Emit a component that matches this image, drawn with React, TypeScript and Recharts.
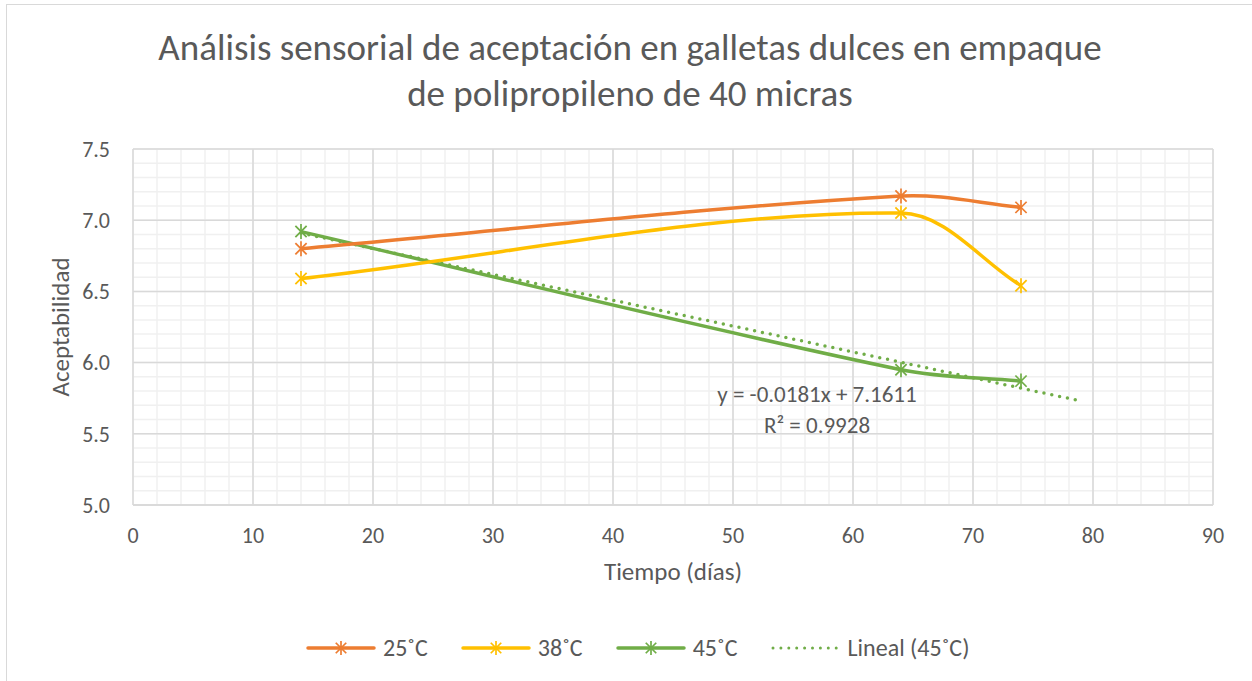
import {
	CartesianGrid,
	Line,
	LineChart,
	ReferenceDot,
	XAxis,
	YAxis,
} from 'recharts'

const days = [14, 64, 74]
const temp25 = [6.8, 7.17, 7.09]
const temp38 = [6.59, 7.05, 6.54]
const temp45 = [6.92, 5.95, 5.87]

// trend line endpoints (starts at first point, forecast to 79)
const trendDays = [14, 79]
const trendValues = [6.91, 5.73]

const xTicks = [0, 10, 20, 30, 40, 50, 60, 70, 80, 90]
const yTicks = [5.0, 5.5, 6.0, 6.5, 7.0, 7.5]
const equation = 'y = -0.0181x + 7.1611'
const rSquared = 'R² = 0.9928'

const ORANGE = '#ED7D31'
const YELLOW = '#FFC000'
const GREEN = '#70AD47'
const TEXT = '#595959'
const FONT = "Carlito, Calibri, 'Liberation Sans', Arial, sans-serif"

const X_MIN = 0
const X_MAX = 90
const Y_MIN = 5
const Y_MAX = 7.5

const toRows = (values: number[]) => days.map((d, i) => ({ x: d, y: values[i] }))
const trendRows = trendDays.map((d, i) => ({ x: d, y: trendValues[i] }))

// minor grid: every 2 days, every 0.1 of acceptability
const minorV = ({ offset }: any) =>
	Array.from({ length: 46 }, (_, i) => offset.left + ((i * 2 - X_MIN) / (X_MAX - X_MIN)) * offset.width)
const minorH = ({ offset }: any) =>
	Array.from({ length: 26 }, (_, i) => offset.top + (i / 25) * offset.height)

// Excel style smoothed line (bezier, tangents scaled by neighbouring segment lengths)
const excelSmooth = (ctx: any) => {
	let pts: [number, number][] = []
	const dist = (a: number[], b: number[]) => Math.hypot(a[0] - b[0], a[1] - b[1])
	return {
		areaStart() {},
		areaEnd() {},
		lineStart() {
			pts = []
		},
		point(x: number, y: number) {
			pts.push([x, y])
		},
		lineEnd() {
			if (!pts.length) return
			ctx.moveTo(pts[0][0], pts[0][1])
			for (let i = 0; i < pts.length - 1; i++) {
				const p0 = pts[i - 1] || pts[i]
				const p1 = pts[i]
				const p2 = pts[i + 1]
				const p3 = pts[i + 2] || p2
				const d01 = dist(p0, p1)
				const d12 = dist(p1, p2)
				const d23 = dist(p2, p3)
				const f1 = d12 / (d01 + d12) / 3
				const f2 = d12 / (d12 + d23) / 3
				ctx.bezierCurveTo(
					p1[0] + (p2[0] - p0[0]) * f1,
					p1[1] + (p2[1] - p0[1]) * f1,
					p2[0] - (p3[0] - p1[0]) * f2,
					p2[1] - (p3[1] - p1[1]) * f2,
					p2[0],
					p2[1],
				)
			}
		},
	}
}

const Star = ({ cx, cy, color, r = 7.5 }: { cx: number; cy: number; color: string; r?: number }) => {
	const d = r * 0.75
	return (
		<g stroke={color} strokeWidth={1.7}>
			<line x1={cx} y1={cy - r} x2={cx} y2={cy + r} />
			<line x1={cx - d} y1={cy - d} x2={cx + d} y2={cy + d} />
			<line x1={cx - d} y1={cy + d} x2={cx + d} y2={cy - d} />
		</g>
	)
}

const starDot = (color: string) => (props: any) =>
	<Star key={`${color}-${props.index}`} cx={props.cx} cy={props.cy} color={color} />

const LegendItem = ({ color, label, dotted }: { color: string; label: string; dotted?: boolean }) => (
	<div style={{ display: 'flex', alignItems: 'center', marginRight: 33 }}>
		<svg width={70} height={20}>
			{dotted ? (
				<line x1={3} y1={10} x2={67} y2={10} stroke={color} strokeWidth={3} strokeDasharray='0 7.9' strokeLinecap='round' />
			) : (
				<>
					<line x1={2} y1={10} x2={68} y2={10} stroke={color} strokeWidth={3.5} strokeLinecap='round' />
					<Star cx={35} cy={10} color={color} r={7} />
				</>
			)}
		</svg>
		<span style={{ marginLeft: 7, fontSize: 24, color: TEXT, fontFamily: FONT, lineHeight: '24px' }}>{label}</span>
	</div>
)

const EquationLabel = (props: any) => {
	const vb = props.viewBox || {}
	const cx = vb.cx ?? vb.x + (vb.width || 0) / 2
	const cy = vb.cy ?? vb.y + (vb.height || 0) / 2
	return (
		<text x={cx} y={cy} textAnchor='middle' fill={TEXT} fontSize={23} fontFamily={FONT}>
			<tspan x={cx} dy={0}>{equation}</tspan>
			<tspan x={cx} dy={31}>{rSquared}</tspan>
		</text>
	)
}

const App = () => {
	return (
		<div style={{ position: 'absolute', left: 0, top: 0, width: 1252, height: 681, overflow: 'hidden', background: '#fff' }}>
			<div style={{ position: 'absolute', left: 6, top: 4, width: 1300, height: 700, border: '1.5px solid #d9d9d9', boxSizing: 'border-box' }} />
			<div style={{ position: 'absolute', left: 0, top: 0 }}>
				<LineChart width={1252} height={681} margin={{ top: 149, right: 39, bottom: 136, left: 83 }}>
					<CartesianGrid
						stroke='#f0f0f0'
						strokeWidth={1.5}
						verticalCoordinatesGenerator={minorV}
						horizontalCoordinatesGenerator={minorH}
					/>
					<CartesianGrid stroke='#d9d9d9' strokeWidth={1.5} />
					<XAxis
						type='number'
						dataKey='x'
						domain={[X_MIN, X_MAX]}
						ticks={xTicks}
						interval={0}
						height={40}
						tickSize={0}
						tickMargin={22}
						axisLine={{ stroke: '#d9d9d9', strokeWidth: 1.5 }}
						tick={{ fill: TEXT, fontSize: 22, fontFamily: FONT }}
						label={{
							content: (p: any) => (
								<text x={p.viewBox.x + p.viewBox.width / 2} y={580} textAnchor='middle' fill={TEXT} fontSize={25} fontFamily={FONT}>
									Tiempo (días)
								</text>
							),
						}}
					/>
					<YAxis
						type='number'
						domain={[Y_MIN, Y_MAX]}
						ticks={yTicks}
						interval={0}
						width={50}
						tickSize={0}
						tickMargin={23}
						axisLine={false}
						tickFormatter={(v: number) => v.toFixed(1)}
						tick={{ fill: TEXT, fontSize: 22, fontFamily: FONT }}
						label={{
							content: (p: any) => {
								const x = p.viewBox.x - 14
								const y = p.viewBox.y + p.viewBox.height / 2
								return (
									<text x={x} y={y} transform={`rotate(-90 ${x} ${y})`} textAnchor='middle' fill={TEXT} fontSize={25} fontFamily={FONT}>
										Aceptabilidad
									</text>
								)
							},
						}}
					/>
					<Line
						data={trendRows}
						dataKey='y'
						type='linear'
						stroke={GREEN}
						strokeWidth={3.5}
						strokeDasharray='0 8'
						strokeLinecap='round'
						dot={false}
						activeDot={false}
						isAnimationActive={false}
					/>
					<Line data={toRows(temp45)} dataKey='y' type={excelSmooth as any} stroke={GREEN} strokeWidth={3.5} dot={starDot(GREEN)} activeDot={false} isAnimationActive={false} />
					<Line data={toRows(temp38)} dataKey='y' type={excelSmooth as any} stroke={YELLOW} strokeWidth={3.5} dot={starDot(YELLOW)} activeDot={false} isAnimationActive={false} />
					<Line data={toRows(temp25)} dataKey='y' type={excelSmooth as any} stroke={ORANGE} strokeWidth={3.5} dot={starDot(ORANGE)} activeDot={false} isAnimationActive={false} />
					<ReferenceDot x={57} y={5.72} r={0} fill='none' stroke='none' label={<EquationLabel />} />
				</LineChart>
			</div>
			<svg style={{ position: 'absolute', left: 0, top: 0 }} width={1252} height={120}>
				<text x={630} y={60} textAnchor='middle' fill={TEXT} fontSize={37} fontFamily={FONT}>
					Análisis sensorial de aceptación en galletas dulces en empaque
				</text>
				<text x={630} y={106} textAnchor='middle' fill={TEXT} fontSize={37} fontFamily={FONT}>
					de polipropileno de 40 micras
				</text>
			</svg>
			<div style={{ position: 'absolute', left: 306, top: 636, display: 'flex', alignItems: 'center' }}>
				<LegendItem color={ORANGE} label='25˚C' />
				<LegendItem color={YELLOW} label='38˚C' />
				<LegendItem color={GREEN} label='45˚C' />
				<LegendItem color={GREEN} label='Lineal (45˚C)' dotted />
			</div>
		</div>
	)
}

export default App
